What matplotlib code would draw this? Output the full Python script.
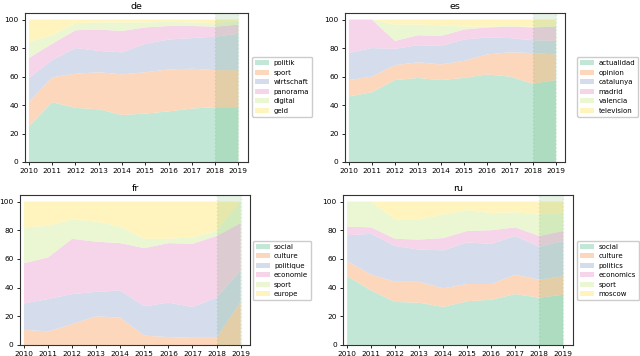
import matplotlib
matplotlib.use('Agg')
import matplotlib.pyplot as plt
import numpy as np

years = [2010, 2011, 2012, 2013, 2014, 2015, 2016, 2017, 2018, 2019]

# de
de_labels = ['politik', 'sport', 'wirtschaft', 'panorama', 'digital', 'geld']
de_politik = [25, 42, 38, 37, 33, 34, 35.5, 37.5, 38.5, 38.5]
de_sport = [17, 17.5, 24, 26, 28.5, 29, 29.5, 28, 26, 26]
de_wirtschaft = [17, 12, 18, 15, 15.5, 20, 21, 21.5, 23.5, 25.5]
de_panorama = [14, 11.5, 12.5, 15, 15, 11.5, 9.5, 8.5, 7, 6.5]
de_digital = [11.5, 6, 5, 5, 6, 3.5, 3, 2.5, 2.5, 2.5]
de_geld = [15.5, 11, 2.5, 2, 2, 2, 1.5, 2, 2.5, 1]

# es
es_labels = ['actualidad', 'opinion', 'catalunya', 'madrid', 'valencia', 'television']
es_actualidad = [46, 49, 57.5, 59, 57.5, 59, 61.5, 60, 55, 57.5]
es_opinion = [11.5, 11, 10.5, 11, 11, 12, 14, 17, 21.5, 18]
es_catalunya = [19, 20, 11.5, 12, 13, 15, 12, 10, 9, 9.5]
es_madrid = [23.5, 20, 5.5, 7, 7, 7, 7, 8, 9, 10]
es_valencia = [0, 0, 11.5, 7.5, 7.5, 2, 0.5, 0.5, 0.5, 0.5]
es_television = [0, 0, 3.5, 3.5, 4, 5, 5, 4.5, 5, 4.5]

# fr
fr_labels = ['social', 'culture', 'politique', 'economie', 'sport', 'europe']
fr_social = [0, 0, 0, 0, 0, 0, 0, 0, 0, 0]
fr_culture = [10.5, 9.5, 14.5, 20, 19, 6.5, 5.5, 5, 5, 30]
fr_politique = [18.5, 22.5, 21, 17, 19, 20.5, 24, 21.5, 28, 22]
fr_economie = [28, 29, 38.5, 35, 33, 40.5, 41.5, 44, 43, 33]
fr_sport = [25, 22, 13.5, 14, 11.5, 6.5, 3, 4.5, 3.5, 15]
fr_europe = [18, 17, 12.5, 14, 17.5, 26, 26, 25, 20.5, 0]

# ru
ru_labels = ['social', 'culture', 'politics', 'economics', 'sport', 'moscow']
ru_social = [48, 38, 30, 29.5, 26.5, 30.5, 31.5, 35.5, 33, 35]
ru_culture = [10.5, 11, 14, 14.5, 13, 12, 11, 13.5, 12.5, 13]
ru_politics = [18, 28.5, 25, 22.5, 26.5, 29, 28, 27, 23, 24.5]
ru_economics = [6, 4.5, 5, 7, 8.5, 8, 9.5, 6, 7.5, 7]
ru_sport = [17.5, 18, 13.5, 14, 16.5, 14.5, 12, 10.5, 15, 12.5]
ru_moscow = [0, 0, 12.5, 12.5, 9, 6, 8, 7.5, 9, 8]

colors = ['#b3e2cd', '#fdcdac', '#cbd5e8', '#f4cae4', '#e6f5c9', '#fff2ae']

# title, labels, series, axes rect, legend anchor (figure coords)
panels = [
    ('de', de_labels, [de_politik, de_sport, de_wirtschaft, de_panorama, de_digital, de_geld],
     [0.039, 0.545, 0.348, 0.418], (0.394, 0.756)),
    ('es', es_labels, [es_actualidad, es_opinion, es_catalunya, es_madrid, es_valencia, es_television],
     [0.539, 0.545, 0.344, 0.418], (0.902, 0.756)),
    ('fr', fr_labels, [fr_social, fr_culture, fr_politique, fr_economie, fr_sport, fr_europe],
     [0.031, 0.031, 0.360, 0.421], (0.395, 0.240)),
    ('ru', ru_labels, [ru_social, ru_culture, ru_politics, ru_economics, ru_sport, ru_moscow],
     [0.536, 0.031, 0.359, 0.421], (0.902, 0.240)),
]

fig = plt.figure(figsize=(6.4, 3.56), dpi=100)

for title, labels, series, pos, anchor in panels:
    ax = fig.add_axes(pos)
    ax.stackplot(years, *series, labels=labels, colors=colors, alpha=0.8)
    ax.axvspan(2018, 2019, color='green', alpha=0.1, ls=':')
    ax.set_xlim(2009.83, 2019.4)
    ax.set_ylim(0, 104.5)
    ax.set_xticks(years)
    ax.set_yticks([0, 20, 40, 60, 80, 100])
    ax.tick_params(labelsize=5.3, length=2.5, width=0.6, pad=2)
    for s in ax.spines.values():
        s.set_linewidth(0.8)
        s.set_color('#333333')
    ax.set_title(title, fontsize=6.8, pad=3)
    ax.legend(loc='center left', bbox_to_anchor=anchor, bbox_transform=fig.transFigure,
              borderaxespad=0, fontsize=5.0, handlelength=2.0, handletextpad=0.6,
              labelspacing=0.5, borderpad=0.45, framealpha=1)

fig.savefig('out.png', dpi=100)
